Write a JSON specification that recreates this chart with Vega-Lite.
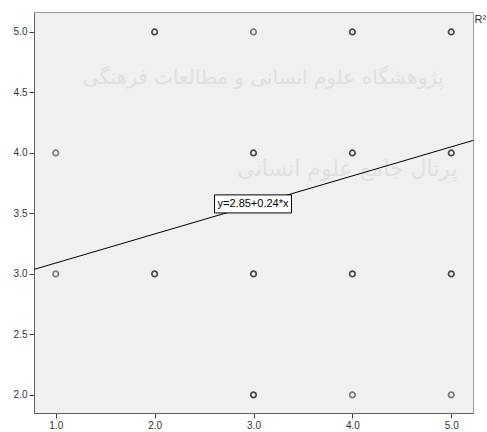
{
  "$schema": "https://vega.github.io/schema/vega-lite/v6.json",
  "width": 439,
  "height": 401,
  "autosize": {"type": "none"},
  "padding": {"left": 34, "top": 12, "right": 14, "bottom": 19},
  "background": "white",
  "config": {
    "view": {"fill": "#f0f0f0", "stroke": "#a0a0a0", "strokeWidth": 1},
    "axis": {"grid": false, "domainColor": "#606060", "tickColor": "#404040", "tickSize": 5, "labelColor": "#333333", "labelFont": "Liberation Sans", "labelFontSize": 10, "labelPadding": 2, "title": null}
  },
  "datasets": {
    "pts": [
      {"x": 1, "y": 4, "n": 1}, {"x": 1, "y": 3, "n": 1},
      {"x": 2, "y": 5, "n": 2}, {"x": 2, "y": 3, "n": 2},
      {"x": 3, "y": 5, "n": 1}, {"x": 3, "y": 4, "n": 2}, {"x": 3, "y": 3, "n": 2}, {"x": 3, "y": 2, "n": 2},
      {"x": 4, "y": 5, "n": 2}, {"x": 4, "y": 4, "n": 2}, {"x": 4, "y": 3, "n": 2}, {"x": 4, "y": 2, "n": 1},
      {"x": 5, "y": 5, "n": 2}, {"x": 5, "y": 4, "n": 2}, {"x": 5, "y": 3, "n": 2}, {"x": 5, "y": 2, "n": 1}
    ],
    "fit": [{"x": 0.78, "y": 3.037}, {"x": 5.22, "y": 4.103}],
    "box": [{"x": 2.606, "x2": 3.384, "y": 3.653, "y2": 3.504, "label": "y=2.85+0.24*x", "xc": 2.995, "yc": 3.578}],
    "wm": [
      {"x": 3.1, "y": 4.62, "t": "پژوهشگاه علوم انسانی و مطالعات فرهنگی", "s": 20},
      {"x": 3.95, "y": 3.87, "t": "پرتال جامع علوم انسانی", "s": 22}
    ],
    "r2": [{"x": 5.235, "y": 5.1, "t": "R²"}]
  },
  "layer": [
    {
      "data": {"name": "wm"},
      "mark": {"type": "text", "font": "DejaVu Sans", "color": "#e0e0e0", "align": "center", "baseline": "middle"},
      "encoding": {
        "x": {"field": "x", "type": "quantitative"},
        "y": {"field": "y", "type": "quantitative"},
        "text": {"field": "t"},
        "size": {"field": "s", "type": "quantitative", "scale": null}
      }
    },
    {
      "data": {"name": "fit"},
      "mark": {"type": "line", "color": "#000000", "strokeWidth": 1},
      "encoding": {
        "x": {"field": "x", "type": "quantitative", "scale": {"domain": [0.78, 5.22], "nice": false, "zero": false}, "axis": {"values": [1, 2, 3, 4, 5], "format": ".1f"}},
        "y": {"field": "y", "type": "quantitative", "scale": {"domain": [1.85, 5.165], "nice": false, "zero": false}, "axis": {"values": [2, 2.5, 3, 3.5, 4, 4.5, 5], "format": ".1f"}}
      }
    },
    {
      "data": {"name": "pts"},
      "mark": {"type": "point", "shape": "circle", "filled": false, "size": 30, "strokeWidth": 1.7},
      "encoding": {
        "x": {"field": "x", "type": "quantitative"},
        "y": {"field": "y", "type": "quantitative"},
        "color": {"field": "n", "type": "ordinal", "scale": {"domain": [1, 2], "range": ["#4a4a4a", "#000000"]}, "legend": null}
      }
    },
    {
      "data": {"name": "box"},
      "mark": {"type": "rect", "fill": "white", "stroke": "#000000", "strokeWidth": 1},
      "encoding": {
        "x": {"field": "x", "type": "quantitative"},
        "x2": {"field": "x2"},
        "y": {"field": "y", "type": "quantitative"},
        "y2": {"field": "y2"}
      }
    },
    {
      "data": {"name": "box"},
      "mark": {"type": "text", "font": "Liberation Sans", "fontSize": 11, "color": "#000000", "align": "center", "baseline": "middle"},
      "encoding": {
        "x": {"field": "xc", "type": "quantitative"},
        "y": {"field": "yc", "type": "quantitative"},
        "text": {"field": "label"}
      }
    },
    {
      "data": {"name": "r2"},
      "mark": {"type": "text", "font": "Liberation Sans", "fontSize": 11, "color": "#333333", "align": "left", "baseline": "middle"},
      "encoding": {
        "x": {"field": "x", "type": "quantitative"},
        "y": {"field": "y", "type": "quantitative"},
        "text": {"field": "t"}
      }
    }
  ]
}
